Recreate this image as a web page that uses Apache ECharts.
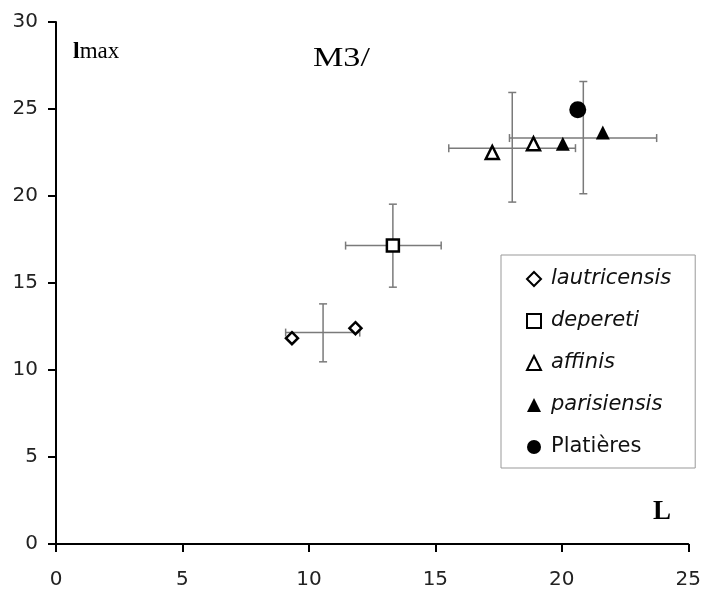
<!DOCTYPE html>
<html>
<head>
<meta charset="utf-8">
<script src="https://cdn.jsdelivr.net/npm/echarts@6/dist/echarts.min.js"></script>
<style>
  html, body { margin: 0; padding: 0; background: #fff; }
  #chart { width: 704px; height: 595px; }
</style>
</head>
<body>
<div id="chart"></div>
<script>
// point values [L, lmax]
const lautricensis = [[9.33, 11.83], [11.84, 12.40]]
const depereti = [[13.32, 17.15]]
const affinis = [[17.25, 22.50], [18.88, 23.00]]
const parisiensis = [[20.04, 23.00], [21.62, 23.65]]
const platieres = [[20.63, 24.96]]
// error crosses: [xMean, yMean, xLow, xHigh, yLow, yHigh]
const errorBars = [
  [10.56, 12.15, 9.08, 12.01, 10.47, 13.80],
  [13.32, 17.15, 11.45, 15.23, 14.76, 19.53],
  [18.04, 22.75, 15.53, 20.54, 19.65, 25.95],
  [20.85, 23.33, 17.93, 23.75, 20.13, 26.58],
]
const legendNames = ['lautricensis', 'depereti', 'affinis', 'parisiensis', 'Platières']

const tickFont = { color: '#222', fontSize: 20, fontFamily: 'DejaVu Sans' }
const barColor = '#7a7a7a'

function renderCross(params, api) {
  const c = api.coord([api.value(0), api.value(1)])
  const xl = api.coord([api.value(2), api.value(1)])
  const xh = api.coord([api.value(3), api.value(1)])
  const yl = api.coord([api.value(0), api.value(4)])
  const yh = api.coord([api.value(0), api.value(5)])
  const style = { stroke: barColor, lineWidth: 1.5, fill: 'none' }
  const cap = 4
  const line = (x1, y1, x2, y2) => ({ type: 'line', shape: { x1, y1, x2, y2 }, style })
  return {
    type: 'group',
    children: [
      line(xl[0], c[1], xh[0], c[1]),
      line(xl[0], c[1] - cap, xl[0], c[1] + cap),
      line(xh[0], c[1] - cap, xh[0], c[1] + cap),
      line(c[0], yl[1], c[0], yh[1]),
      line(c[0] - cap, yl[1], c[0] + cap, yl[1]),
      line(c[0] - cap, yh[1], c[0] + cap, yh[1]),
    ],
  }
}

const chart = echarts.init(document.getElementById('chart'))
chart.setOption({
  animation: false,
  backgroundColor: '#fff',
  grid: { left: 56, right: 15, top: 22, bottom: 51 },
  xAxis: {
    type: 'value',
    min: 0,
    max: 25,
    interval: 5,
    axisLine: { lineStyle: { color: '#000', width: 2 } },
    axisTick: { length: 8, lineStyle: { color: '#000', width: 2 } },
    axisLabel: { ...tickFont, margin: 26 },
    splitLine: { show: false },
  },
  yAxis: {
    type: 'value',
    min: 0,
    max: 30,
    interval: 5,
    axisLine: { show: true, lineStyle: { color: '#000', width: 2 } },
    axisTick: { show: true, length: 8, lineStyle: { color: '#000', width: 2 } },
    axisLabel: { ...tickFont, margin: 18 },
    splitLine: { show: false },
  },
  legend: {
    orient: 'vertical',
    left: 501,
    top: 255,
    data: legendNames.map((name) =>
      name === 'Platières' ? { name, textStyle: { fontStyle: 'normal' } } : { name }
    ),
    padding: [13, 24, 10, 25],
    itemWidth: 14,
    itemHeight: 14,
    itemGap: 20,
    borderColor: '#999',
    borderWidth: 1,
    borderRadius: 0,
    selectedMode: false,
    textStyle: {
      color: '#111',
      fontSize: 21,
      lineHeight: 22,
      fontFamily: 'DejaVu Sans',
      fontStyle: 'italic',
      padding: [0, 0, 0, 5],
    },
  },
  graphic: [
    {
      type: 'text',
      x: 73,
      y: 52,
      style: {
        text: '{b|l}{r|max}',
        verticalAlign: 'middle',
        rich: {
          b: { fontFamily: 'Liberation Serif', fontWeight: 'bold', fontSize: 24, fill: '#000' },
          r: { fontFamily: 'Liberation Serif', fontSize: 23, fill: '#000' },
        },
      },
    },
    {
      type: 'text',
      x: 313,
      y: 59,
      scaleX: 1.22,
      style: {
        text: 'M3/',
        font: '28px "Liberation Serif"',
        fill: '#000',
        verticalAlign: 'middle',
      },
    },
    {
      type: 'text',
      x: 653,
      y: 512,
      style: {
        text: 'L',
        font: 'bold 27px "Liberation Serif"',
        fill: '#000',
        verticalAlign: 'middle',
      },
    },
  ],
  series: [
    {
      type: 'custom',
      renderItem: renderCross,
      data: errorBars,
      z: 1,
      silent: true,
    },
    {
      name: 'lautricensis',
      type: 'scatter',
      data: lautricensis,
      symbol: 'diamond',
      symbolSize: 12,
      itemStyle: { color: '#fff', borderColor: '#000', borderWidth: 2.5, opacity: 1 },
      z: 3,
    },
    {
      name: 'depereti',
      type: 'scatter',
      data: depereti,
      symbol: 'rect',
      symbolSize: 12,
      itemStyle: { color: '#fff', borderColor: '#000', borderWidth: 2.5, opacity: 1 },
      z: 3,
    },
    {
      name: 'affinis',
      type: 'scatter',
      data: affinis,
      symbol: 'triangle',
      symbolSize: 13,
      itemStyle: { color: '#fff', borderColor: '#000', borderWidth: 2.5, opacity: 1 },
      z: 3,
    },
    {
      name: 'parisiensis',
      type: 'scatter',
      data: parisiensis,
      symbol: 'triangle',
      symbolSize: 14,
      itemStyle: { color: '#000', opacity: 1 },
      z: 3,
    },
    {
      name: 'Platières',
      type: 'scatter',
      data: platieres,
      symbol: 'circle',
      symbolSize: 17,
      itemStyle: { color: '#000', opacity: 1 },
      z: 3,
    },
  ],
})
</script>
</body>
</html>
